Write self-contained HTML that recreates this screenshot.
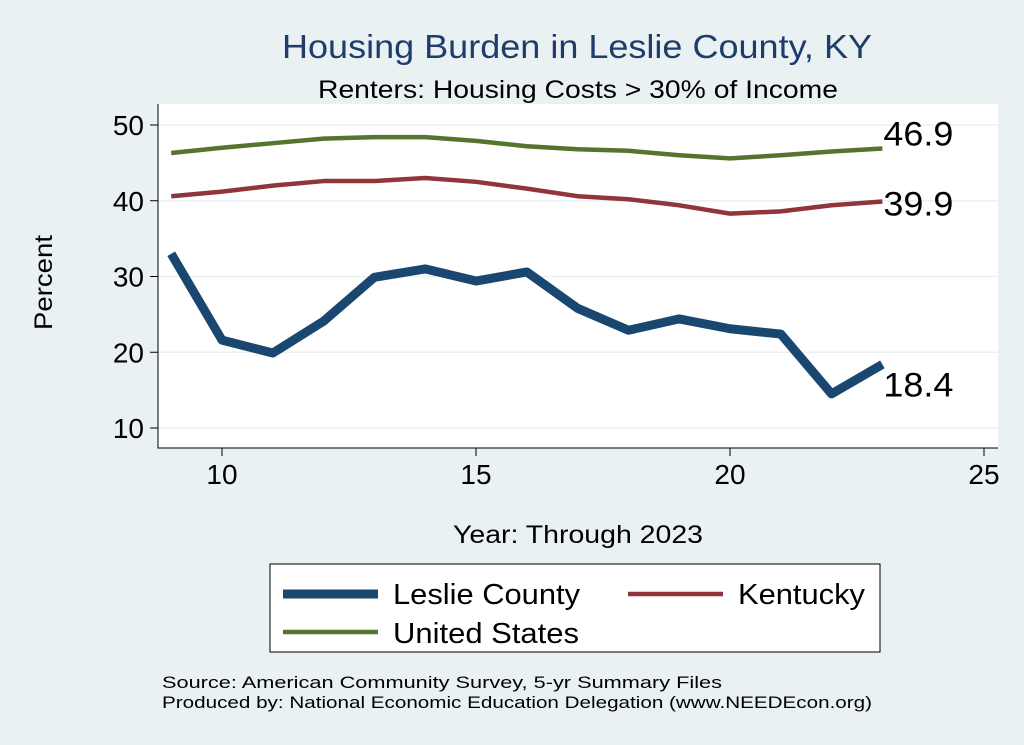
<!DOCTYPE html>
<html><head><meta charset="utf-8"><style>
body{margin:0;background:#eaf1f3;}
svg{display:block;font-family:"Liberation Sans",sans-serif;}
</style></head><body>
<svg id="c" width="1024" height="745">
<rect x="0" y="0" width="1024" height="745" fill="#eaf1f3"/>
<text x="282" y="58" font-size="33" fill="#1f3d6b" textLength="590" lengthAdjust="spacingAndGlyphs">Housing Burden in Leslie County, KY</text>
<text x="318" y="98" font-size="25" textLength="520" lengthAdjust="spacingAndGlyphs">Renters: Housing Costs &gt; 30% of Income</text>
<rect x="158" y="104" width="840" height="344" fill="#fff"/>
<g id="grid"></g><g id="axes"></g><g id="series"></g>
<text x="52" y="330" font-size="25" textLength="95" lengthAdjust="spacingAndGlyphs" transform="rotate(-90 52 330)">Percent</text>
<text x="453" y="543" font-size="25" textLength="250" lengthAdjust="spacingAndGlyphs">Year: Through 2023</text>
<g>
<rect x="270" y="564" width="610" height="88" fill="#fff" stroke="#000" stroke-width="1"/>
<line x1="283" y1="594" x2="378" y2="594" stroke="#1a476f" stroke-width="9"/>
<text x="393" y="604" font-size="29" textLength="187" lengthAdjust="spacingAndGlyphs">Leslie County</text>
<line x1="628" y1="594" x2="723" y2="594" stroke="#90353b" stroke-width="4.5"/>
<text x="738" y="604" font-size="29" textLength="127" lengthAdjust="spacingAndGlyphs">Kentucky</text>
<line x1="283" y1="632" x2="378" y2="632" stroke="#55752f" stroke-width="4.5"/>
<text x="393" y="643" font-size="29" textLength="186" lengthAdjust="spacingAndGlyphs">United States</text>
</g>
<text x="162" y="688" font-size="17" textLength="560" lengthAdjust="spacingAndGlyphs">Source: American Community Survey, 5-yr Summary Files</text>
<text x="162" y="708" font-size="17" textLength="710" lengthAdjust="spacingAndGlyphs">Produced by: National Economic Education Delegation (www.NEEDEcon.org)</text>
</svg>
<script>
const years=[9,10,11,12,13,14,15,16,17,18,19,20,21,22,23];
const leslie=[33.0,21.6,19.9,24.1,29.9,31.0,29.4,30.6,25.8,22.9,24.4,23.1,22.4,14.5,18.4];
const kentucky=[40.6,41.2,42.0,42.6,42.6,43.0,42.5,41.6,40.6,40.2,39.4,38.3,38.6,39.4,39.9];
const us=[46.3,47.0,47.6,48.2,48.4,48.4,47.9,47.2,46.8,46.6,46.0,45.6,46.0,46.5,46.9];
const xTicks=[10,15,20,25];
const yTicks=[10,20,30,40,50];
const NS='http://www.w3.org/2000/svg';
const X=v=>222+(v-10)*50.8;
const Y=v=>428-(v-10)*7.575;
function mk(t,a,p){const e=document.createElementNS(NS,t);for(const k in a)e.setAttribute(k,a[k]);document.getElementById(p).appendChild(e);return e;}
yTicks.forEach(t=>{
 let g=mk('line',{x1:158,x2:998,y1:Y(t),y2:Y(t),stroke:'#eaf1f3','stroke-width':1.5},'grid');
 
 
 let k=mk('line',{x1:150,x2:158,y1:Y(t),y2:Y(t),stroke:'#000'},'axes');
 
 
 let l=mk('text',{x:144,y:Y(t)+10,'font-size':28,'text-anchor':'end'},'axes');l.textContent=t;
 
 
});
xTicks.forEach(t=>{
 let k=mk('line',{x1:X(t),x2:X(t),y1:448,y2:456,stroke:'#000'},'axes');
 
 
 let l=mk('text',{x:X(t),y:484,'font-size':28,'text-anchor':'middle'},'axes');l.textContent=t;
 
 
});
let ax=mk('path',{d:'M158 104V448H998',fill:'none',stroke:'#000','stroke-width':1},'axes');


function line(d,c,w,name,ly){
 const p=mk('polyline',{points:years.map((y,i)=>X(y)+','+Y(d[i])).join(' '),fill:'none',stroke:c,'stroke-width':w,'stroke-linejoin':'round'},'series');
 
 
 const t=mk('text',{x:X(years[years.length-1])+1,y:Y(d[d.length-1])+ly,'font-size':34,textLength:70,lengthAdjust:'spacingAndGlyphs'},'series');
 t.textContent=d[d.length-1].toFixed(1);
 
 
}
line(us,'#55752f',4.5,'us-line',-3);
line(kentucky,'#90353b',4.5,'kentucky-line',14);
line(leslie,'#1a476f',9,'leslie-line',32);
</script>
</body></html>
